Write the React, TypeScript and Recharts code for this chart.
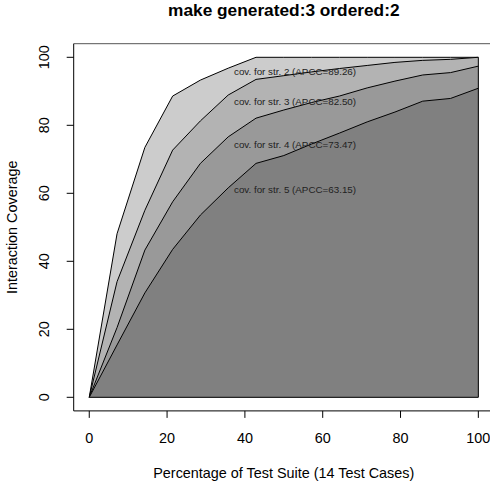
import { ComposedChart, Area, XAxis, YAxis, ReferenceLine, ReferenceDot } from "recharts";

const FONT = "'Liberation Sans', Arial, Helvetica, sans-serif";

// percentage of the test suite after each of the 14 test cases
const pct = [0, 7.14, 14.29, 21.43, 28.57, 35.71, 42.86, 50, 57.14, 64.29, 71.43, 78.57, 85.71, 92.86, 100];

// interaction coverage per strength
const str2 = [0, 48.1, 73.5, 88.6, 93.3, 96.8, 100, 100, 100, 100, 100, 100, 100, 100, 100];
const str3 = [0, 34.0, 55.0, 72.7, 81.3, 88.9, 93.5, 94.6, 95.7, 96.7, 97.6, 98.5, 99.1, 99.4, 100];
const str4 = [0, 20.5, 43.3, 57.5, 68.8, 76.6, 82.1, 84.5, 86.7, 88.6, 91.0, 93.0, 94.8, 95.5, 97.4];
const str5 = [0, 15.4, 30.7, 43.5, 53.6, 61.6, 68.8, 71.1, 74.5, 77.7, 81.0, 83.9, 87.1, 87.9, 90.9];

const xTicks = [0, 20, 40, 60, 80, 100];
const yTicks = [0, 20, 40, 60, 80, 100];

const series = [
    { key: "str2", fill: "#cccccc" },
    { key: "str3", fill: "#b3b3b3" },
    { key: "str4", fill: "#999999" },
    { key: "str5", fill: "#808080" },
];

const noteLabels = [
    "cov. for str. 2 (APCC=89.26)",
    "cov. for str. 3 (APCC=82.50)",
    "cov. for str. 4 (APCC=73.47)",
    "cov. for str. 5 (APCC=63.15)",
];
const noteX = 37.2;
const noteY = [95.8, 86.9, 74.2, 61.2];

const data = pct.map((p, i) => ({ pct: p, str2: str2[i], str3: str3[i], str4: str4[i], str5: str5[i] }));

function YTick(props: any) {
    const { x, y, payload } = props;
    return (
        <text x={x} y={y} transform={`rotate(-90 ${x} ${y})`} textAnchor="middle" fontSize={14.4} fontFamily={FONT} fill="#000">
            {payload.value}
        </text>
    );
}

function YLabel(props: any) {
    const vb = props.viewBox || { y: 43.7, height: 367.2 };
    const cy = vb.y + vb.height / 2;
    return (
        <text x={17} y={cy} transform={`rotate(-90 17 ${cy})`} textAnchor="middle" fontSize={14.4} fontFamily={FONT} fill="#000">
            Interaction Coverage
        </text>
    );
}

export default function App() {
    return (
        <div style={{ position: "absolute", left: 0, top: 0, width: 490, height: 488, overflow: "hidden", background: "#fff" }}>
            <div
                style={{
                    position: "absolute",
                    left: 73.7,
                    width: 420.2,
                    top: 0,
                    textAlign: "center",
                    fontFamily: FONT,
                    fontWeight: "bold",
                    fontSize: 17.3,
                    lineHeight: "20px",
                    color: "#000",
                }}
            >
                make generated:3 ordered:2
            </div>
            <ComposedChart width={500} height={488} data={data} margin={{ top: 43.7, right: 6.1, bottom: 0, left: 0 }}>
                <XAxis
                    dataKey="pct"
                    type="number"
                    domain={[-4, 104]}
                    ticks={xTicks}
                    allowDataOverflow
                    height={77.1}
                    tickSize={7}
                    tickMargin={15.2}
                    axisLine={{ stroke: "#000" }}
                    tickLine={{ stroke: "#000" }}
                    tick={{ fill: "#000", fontSize: 14.4, fontFamily: FONT }}
                    label={{ value: "Percentage of Test Suite (14 Test Cases)", position: "insideBottom", offset: 10.4, fill: "#000", fontSize: 14.4, fontFamily: FONT }}
                />
                <YAxis
                    type="number"
                    domain={[-4, 104]}
                    ticks={yTicks}
                    allowDataOverflow
                    width={73.7}
                    tickSize={7}
                    tickMargin={17.4}
                    axisLine={{ stroke: "#000" }}
                    tickLine={{ stroke: "#000" }}
                    tick={<YTick />}
                    label={{ content: <YLabel /> }}
                />
                {series.map((s) => (
                    <Area
                        key={s.key}
                        type="linear"
                        dataKey={s.key}
                        baseValue={0}
                        stroke="#000"
                        strokeWidth={1}
                        fill={s.fill}
                        fillOpacity={1}
                        dot={false}
                        activeDot={false}
                        isAnimationActive={false}
                    />
                ))}
                <ReferenceLine segment={[{ x: 0, y: 0 }, { x: 100, y: 0 }]} stroke="#000" />
                <ReferenceLine segment={[{ x: 100, y: 0 }, { x: 100, y: 100 }]} stroke="#000" />
                <ReferenceLine y={104} stroke="#555" />
                {noteLabels.map((t, i) => (
                    <ReferenceDot
                        key={t}
                        x={noteX}
                        y={noteY[i]}
                        r={0}
                        fill="none"
                        stroke="none"
                        label={{ value: t, position: "right", offset: 0, fill: "#222", fontSize: 9.8, fontFamily: FONT }}
                    />
                ))}
            </ComposedChart>
        </div>
    );
}
